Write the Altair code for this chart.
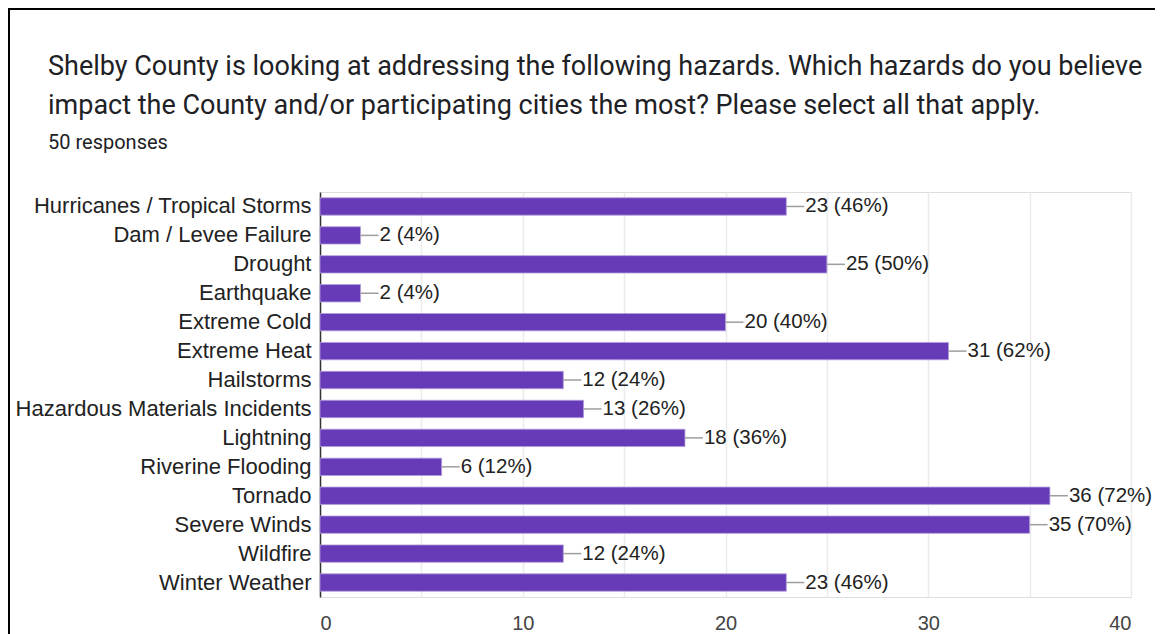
import altair as alt
import pandas as pd

hazards = [
    "Hurricanes / Tropical Storms", "Dam / Levee Failure", "Drought", "Earthquake",
    "Extreme Cold", "Extreme Heat", "Hailstorms", "Hazardous Materials Incidents",
    "Lightning", "Riverine Flooding", "Tornado", "Severe Winds", "Wildfire", "Winter Weather",
]
counts = [23, 2, 25, 2, 20, 31, 12, 13, 18, 6, 36, 35, 12, 23]
percents = [46, 4, 50, 4, 40, 62, 24, 26, 36, 12, 72, 70, 24, 46]
x_ticks = [0, 5, 10, 15, 20, 25, 30, 35, 40]
title_lines = [
    "Shelby County is looking at addressing the following hazards. Which hazards do you believe",
    "impact the County and/or participating cities the most? Please select all that apply.",
]
subtitle = "50 responses"

df = pd.DataFrame({
    "hazard": hazards,
    "count": counts,
    "label": [f"{c} ({p}%)" for c, p in zip(counts, percents)],
})

W, H = 811, 405
PL, PT = 312, 184
LABEL_FONT = "Liberation Sans"

x_enc = alt.X(
    "count:Q",
    scale=alt.Scale(domain=[0, 40], nice=False),
    axis=alt.Axis(
        values=x_ticks, labelExpr="datum.value % 10 == 0 ? datum.label : ''",
        grid=True, gridColor="#ebebeb", gridWidth=1.5, domain=False, ticks=False,
        labelFontSize=20, labelColor="#444444", labelPadding=16, labelFont=LABEL_FONT,
        title=None,
    ),
)
y_enc = alt.Y(
    "hazard:N", sort=None,
    scale=alt.Scale(paddingInner=0.4, paddingOuter=0.2),
    axis=alt.Axis(
        domain=True, domainColor="#333333", domainWidth=1.5, ticks=False, grid=False,
        labelFontSize=22, labelColor="#222222", labelPadding=9, labelFont=LABEL_FONT,
        labelLimit=400, title=None,
    ),
)

base = alt.Chart(df)

bars = base.mark_bar(color="#673ab7", stroke="#b39ddb", strokeWidth=0.8).encode(x=x_enc, y=y_enc)
connectors = base.mark_rule(color="#9e9e9e", strokeWidth=1.5, x2Offset=18).encode(
    x="count:Q", x2="count:Q", y=alt.Y("hazard:N", sort=None)
)
texts = base.mark_text(
    align="left", baseline="middle", dx=19, fontSize=20.5, color="#222222", font=LABEL_FONT
).encode(x="count:Q", y=alt.Y("hazard:N", sort=None), text="label:N")

one = pd.DataFrame({"k": [0]})
title1 = alt.Chart(one).mark_text(
    align="left", baseline="alphabetic", font="Roboto", fontSize=27, color="#202124"
).encode(x=alt.value(-272), y=alt.value(-117), text=alt.value(title_lines[0]))
title2 = alt.Chart(one).mark_text(
    align="left", baseline="alphabetic", font="Roboto", fontSize=27, color="#202124"
).encode(x=alt.value(-272), y=alt.value(-78), text=alt.value(title_lines[1]))
sub = alt.Chart(one).mark_text(
    align="left", baseline="alphabetic", font="Roboto", fontSize=20, color="#202124"
).encode(x=alt.value(-272), y=alt.value(-43), text=alt.value(subtitle))

frame = alt.Chart(one).mark_rect(
    fill=None, stroke="#000000", strokeWidth=2
).encode(
    x=alt.value(-PL + 1), x2=alt.value(W + 60),
    y=alt.value(-PT + 1), y2=alt.value(H + 80),
)

chart = alt.layer(bars, connectors, texts, title1, title2, sub, frame).properties(
    width=W, height=H,
    autosize=alt.AutoSizeParams(type="none"),
    padding={"left": PL, "top": PT, "right": 24, "bottom": 37},
).configure_view(stroke="#e8e8e8", strokeWidth=2).configure(background="white")

chart.save("out.html", embed_options={"renderer": "svg", "actions": False})
